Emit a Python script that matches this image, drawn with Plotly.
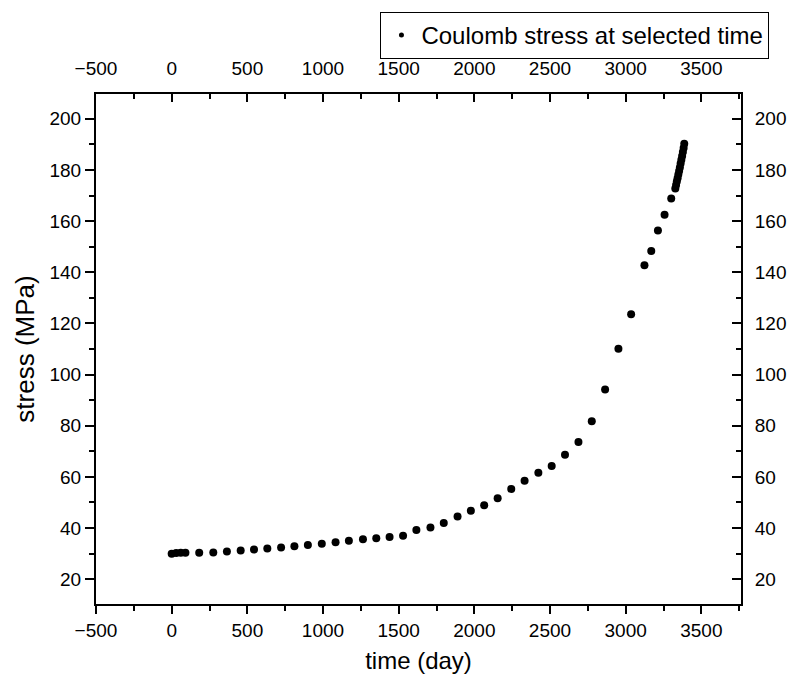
import plotly.graph_objects as go

time_day = [0, 30, 60, 91, 182, 275, 365, 456, 544, 632, 723, 811, 900, 992, 1083, 1171,
            1264, 1352, 1440, 1529, 1617, 1710, 1798, 1889, 1977, 2065, 2154, 2244, 2332,
            2423, 2511, 2599, 2688, 2776, 2864, 2952, 3036, 3124, 3169, 3213, 3257, 3301,
            3328, 3333, 3338, 3343, 3348, 3353, 3358, 3363, 3368, 3373, 3378, 3383, 3387]
stress_mpa = [29.9, 30.2, 30.3, 30.3, 30.3, 30.4, 30.8, 31.2, 31.6, 32.0, 32.4, 32.9, 33.4,
              33.9, 34.4, 35.0, 35.6, 36.0, 36.5, 37.0, 39.2, 40.2, 42.0, 44.5, 46.8, 48.9,
              51.6, 55.3, 58.5, 61.6, 64.3, 68.7, 73.6, 81.8, 94.2, 110.1, 123.6, 142.7,
              148.3, 156.3, 162.5, 168.8, 172.8, 174.1, 175.5, 176.8, 178.2, 179.6, 181.0,
              182.5, 184.0, 185.5, 187.0, 188.6, 190.2]
series_name = "Coulomb stress at selected time"
x_title = "time (day)"
y_title = "stress (MPa)"

FONT = "Liberation Sans, Arial, sans-serif"
XR = [-500, 3762]
YR = [10.3, 209.7]

fig = go.Figure()
fig.add_trace(go.Scatter(x=time_day, y=stress_mpa, mode="markers",
                         marker=dict(color="black", size=8, symbol="circle"),
                         showlegend=False, name=series_name))
# legend entry (small marker as in the reference)
fig.add_trace(go.Scatter(x=[None], y=[None], mode="markers",
                         marker=dict(color="black", size=5), name=series_name,
                         showlegend=True))
# host trace for the top/right axes
fig.add_trace(go.Scatter(x=[None], y=[None], mode="markers", xaxis="x2", yaxis="y2",
                         showlegend=False, hoverinfo="skip"))

axis_common = dict(showline=True, linecolor="black", linewidth=2, showgrid=False,
                   zeroline=False, tickcolor="black", tickwidth=2, automargin=False,
                   tickfont=dict(family=FONT, size=19, color="black"))

fig.update_layout(
    width=790, height=684,
    margin=dict(l=96, r=49, t=88, b=80),
    paper_bgcolor="white", plot_bgcolor="white",
    font=dict(family=FONT, color="black"),
    xaxis=dict(range=XR, tick0=-500, dtick=500, ticks="outside", ticklen=8,
               minor=dict(dtick=250, tick0=-500, ticks="outside", ticklen=5,
                          tickwidth=2, tickcolor="black"),
               title=dict(text=x_title, font=dict(family=FONT, size=24, color="black"),
                          standoff=12),
               **axis_common),
    xaxis2=dict(range=XR, overlaying="x", side="top", anchor="y", tick0=-500, dtick=500,
                ticks="inside", ticklen=8, ticklabelstandoff=9,
                minor=dict(dtick=250, tick0=-500, ticks="inside", ticklen=5,
                           tickwidth=2, tickcolor="black"),
                **axis_common),
    yaxis=dict(range=YR, tick0=0, dtick=20, ticks="outside", ticklen=9,
               minor=dict(dtick=10, tick0=0, ticks="outside", ticklen=5,
                          tickwidth=2, tickcolor="black"),
               title=dict(text=y_title, font=dict(family=FONT, size=26, color="black"),
                          standoff=7),
               **axis_common),
    yaxis2=dict(range=YR, overlaying="y", side="right", anchor="x", tick0=0, dtick=20,
                ticks="inside", ticklen=9, ticklabelstandoff=8,
                minor=dict(dtick=10, tick0=0, ticks="inside", ticklen=5,
                           tickwidth=2, tickcolor="black"),
                **axis_common),
    legend=dict(x=0.441, y=1.161, xanchor="left", yanchor="top",
                bordercolor="black", borderwidth=1, bgcolor="rgba(255,255,255,0)",
                font=dict(family=FONT, size=24, color="black"),
                itemsizing="trace", tracegroupgap=0),
)

fig.write_html("out.html", config={"displayModeBar": False},
               post_script="document.body.style.margin='0';document.body.style.overflow='hidden';")
